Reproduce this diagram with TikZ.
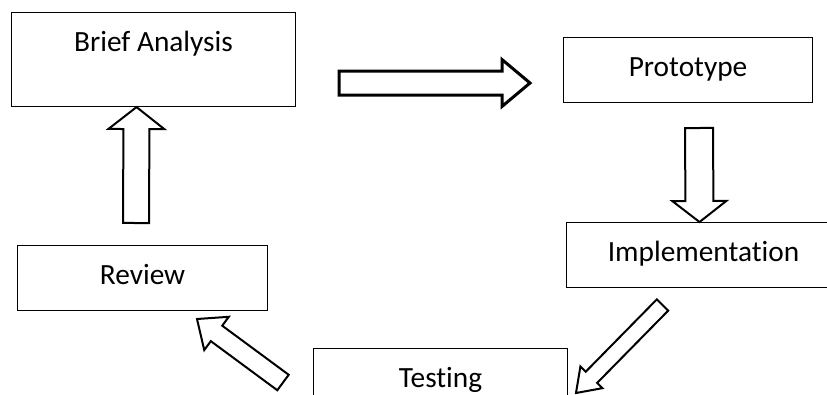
\documentclass[tikz,border=0pt]{standalone}
\usepackage{fontspec}
\setmainfont{Carlito}[Ligatures=NoCommon]
\usetikzlibrary{calc}

\tikzset{
  stage/.style={draw, line width=0.8pt, anchor=north west, inner xsep=0pt, inner ysep=0pt,
    text height=29.25pt, text depth=19.5pt, font=\fontsize{22}{26}\selectfont},
  fat/.style={draw, line width=1.5pt, line join=miter},
}

% block arrow: style, tail, tip, shaft half width, head half width, head length
\newcommand{\fatarrow}[6]{%
  \coordinate (hb) at ($(#3)!#6!(#2)$);
  \draw[#1] ($(#2)!#4!90:(#3)$) -- ($(hb)!#4!90:(#3)$) -- ($(hb)!#5!90:(#3)$) -- (#3)
    -- ($(hb)!#5!-90:(#3)$) -- ($(hb)!#4!-90:(#3)$) -- ($(#2)!#4!-90:(#3)$) -- cycle;
}

\begin{document}
\begin{tikzpicture}[x=0.75pt, y=-0.75pt]
\useasboundingbox (0,0) rectangle (827,394);
\clip (0,0) rectangle (827,394);

\node[stage, minimum width=213pt, text depth=41.25pt] (brief) at (11,12) {Brief Analysis};
\node[stage, minimum width=186.75pt] (proto) at (563,37) {Prototype};
\node[stage, minimum width=205.5pt] (impl) at (566,222) {Implementation};
\node[stage, minimum width=187.5pt] (review) at (17,245) {Review};
\node[stage, minimum width=190.5pt] (test) at (313,348) {Testing};

% arrow ends
\coordinate (brief in) at ($(brief.south)+(-17,0)$);
\coordinate (review out) at (136,223);
\coordinate (brief out) at (339,83);
\coordinate (proto in) at (530,83);
\coordinate (proto out) at (699,128);
\coordinate (impl in) at ($(impl.north)+(-4,0)$);
\coordinate (impl out) at (662.5,305);
\coordinate (test in) at (576,393);
\coordinate (test out) at (283,382.5);
\coordinate (review in) at (197,319);

\fatarrow{fat}{review out}{brief in}{9.75pt}{21pt}{16.5pt}
\fatarrow{fat, line width=2.25pt}{brief out}{proto in}{9pt}{17.6pt}{21pt}
\fatarrow{fat}{proto out}{impl in}{10.5pt}{20.25pt}{15.75pt}
\fatarrow{fat}{impl out}{test in}{6pt}{11.6pt}{16.5pt}
\fatarrow{fat}{test out}{review in}{7.2pt}{15.5pt}{18.2pt}
\end{tikzpicture}
\end{document}
